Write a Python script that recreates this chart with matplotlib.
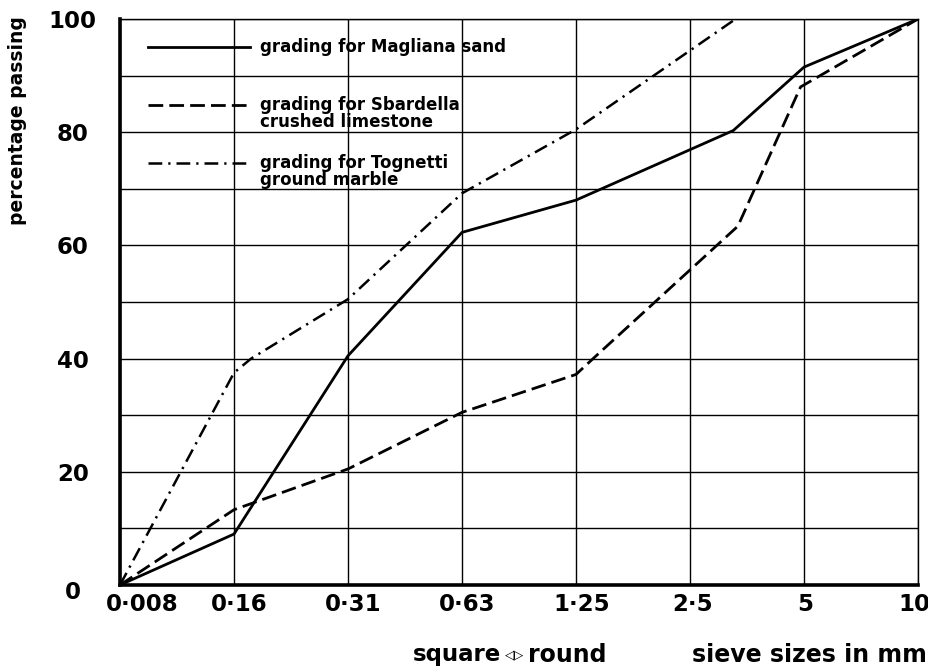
import numpy as np
import matplotlib.pyplot as plt
import matplotlib.transforms as mtransforms

plt.rcParams['font.family'] = ['DejaVu Sans']

# sieve size labels, one per grid column
sieve_labels = ["0·008", "0·16", "0·31", "0·63", "1·25", "2·5", "5", "10"]
sieve_pos = np.arange(len(sieve_labels))

# grading curves (x in sieve-column units, y = % passing)
magliana_x = [0, 1, 2, 3, 4, 5.38, 6, 7]
magliana_y = [0, 9, 40.5, 62.3, 68, 80.3, 91.5, 100]

sbardella_x = [0, 1, 2, 3, 4, 4.15, 5.42, 5.97, 7]
sbardella_y = [0, 13.3, 20.5, 30.5, 37.2, 40, 63.4, 88, 100]

tognetti_x = [0, 1, 1.15, 2, 3, 4, 5.4]
tognetti_y = [0, 37.5, 40, 50.5, 69.2, 80.5, 100]

legend_labels = [["grading for Magliana sand"],
                 ["grading for Sbardella", "crushed limestone"],
                 ["grading for Tognetti", "ground marble"]]

fig = plt.figure(figsize=(9.29, 6.68), dpi=100)
ax = fig.add_axes([120/929, 1 - 585/668, 798/929, 566/668])

lw = 2.0
dash_style = (5.3, 2.2)
dashdot_style = (5.5, 2.4, 0.9, 2.4)
ax.plot(magliana_x, magliana_y, color='black', lw=lw)
ax.plot(sbardella_x, sbardella_y, color='black', lw=lw, dashes=dash_style)
ax.plot(tognetti_x, tognetti_y, color='black', lw=1.8, dashes=dashdot_style)

ax.set_xlim(0, 7)
ax.set_ylim(0, 100)
ax.set_xticks(sieve_pos)
ax.set_xticklabels(sieve_labels, fontsize=16.5, fontweight='bold')
ax.set_yticks(np.arange(0, 101, 20))
ax.set_yticklabels([str(v) for v in range(0, 101, 20)], fontsize=16.5,
                   fontweight='bold', ha='center')
ax.set_yticks(np.arange(0, 101, 10), minor=True)
ax.tick_params(axis='y', which='both', length=0, pad=34)
ax.tick_params(axis='x', length=0, pad=6)

# small horizontal nudges of the x labels, as in the printed figure
x_shift_px = [22, 5, 5, 5, 6, 3, 1, -4]
for lab, dx in zip(ax.get_xticklabels(), x_shift_px):
    lab.set_transform(lab.get_transform() +
                      mtransforms.ScaledTranslation(dx/100, 0, fig.dpi_scale_trans))
zero_lab = ax.get_yticklabels()[0]
zero_lab.set_transform(zero_lab.get_transform() +
                       mtransforms.ScaledTranslation(0, -5/100, fig.dpi_scale_trans))

ax.grid(True, which='both', color='black', lw=1.0)
ax.set_axisbelow(True)

for side in ['top', 'right']:
    ax.spines[side].set_linewidth(1.0)
for side in ['left', 'bottom']:
    ax.spines[side].set_linewidth(2.6)

ax.set_ylabel("percentage passing", fontsize=13.5, fontweight='bold')
ax.yaxis.set_label_coords(-0.117, 0.82)

# legend drawn inside the grid
styles = [dict(lw=lw), dict(lw=lw, dashes=dash_style),
          dict(lw=1.8, dashes=dashdot_style)]
leg_y = [0.9505, 0.848, 0.7456]
for lines, st, y in zip(legend_labels, styles, leg_y):
    ax.plot([0.035, 0.163], [y, y], color='black', transform=ax.transAxes,
            clip_on=False, **st)
    for i, t in enumerate(lines):
        ax.text(0.175, y - i * 0.03, t, transform=ax.transAxes, fontsize=12,
                fontweight='bold', va='center', ha='left')

ytxt = 1 - 655/668
fig.text(413/929, ytxt, "square", fontsize=16.5, fontweight='bold',
         va='center', ha='left')
fig.text(505/929, ytxt, "◁▷", fontsize=9, fontweight='bold',
         va='center', ha='left')
fig.text(528/929, ytxt, "round", fontsize=17, fontweight='bold',
         va='center', ha='left')
fig.text(927/929, ytxt, "sieve sizes in mm", fontsize=17,
         fontweight='bold', va='center', ha='right')

fig.savefig("out.png", dpi=100)
